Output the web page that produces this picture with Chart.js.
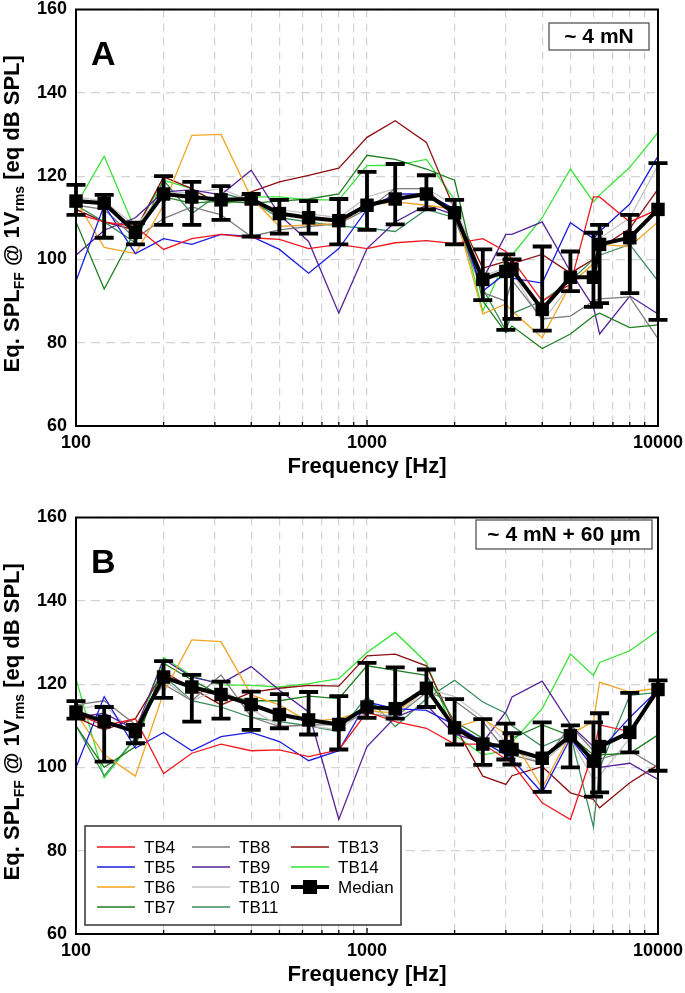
<!DOCTYPE html>
<html>
<head>
<meta charset="utf-8">
<script src="https://cdn.jsdelivr.net/npm/chart.js@4.4.1/dist/chart.umd.min.js"></script>
<style>
  html, body { margin: 0; padding: 0; background: #fff; overflow: hidden; }
  canvas { position: absolute; left: 0; }
  #chartA { top: 0; }
  #chartB { top: 508px; }
</style>
</head>
<body>
<canvas id="chartA" width="685" height="485"></canvas>
<canvas id="chartB" width="685" height="485"></canvas>
<script>
const freqs = [100, 125, 160, 200, 250, 315, 400, 500, 630, 800, 1000, 1250, 1600, 2000, 2500, 3000, 3150, 4000, 5000, 6000, 6300, 8000, 10000];
const xLabels = [100, 1000, 10000];
const yTicks = [60, 80, 100, 120, 140, 160];

const seriesNames = ['TB4', 'TB5', 'TB6', 'TB7', 'TB8', 'TB9', 'TB10', 'TB11', 'TB13', 'TB14'];
const seriesColors = ['#f01820', '#1c1ce0', '#f2a524', '#1f7d1f', '#7d7d7d', '#55229a', '#c4c4c4', '#3b8d5e', '#8c1010', '#36e336'];

/* panel A : ~4 mN */
const tb4A  = [111, 109, 107.9, 102.4, 105, 106, 105.2, 104.8, 102.6, 103.6, 102.6, 104, 104.5, 103.8, 105, 101.9, 100, 90, 94, 115, 115, 109, 112];
const tb5A  = [94.8, 113, 101.4, 105, 103.6, 106, 105.5, 102.4, 96.7, 102.6, 112, 115.7, 115.7, 112.1, 92.4, 96.7, 95.5, 94.3, 108.8, 105, 106.7, 113.3, 124.8];
const tb6A  = [114, 102.9, 101.4, 113, 129.8, 130, 114.8, 107.9, 108.3, 108.6, 113, 113.8, 113, 112, 86.9, 89.3, 87.6, 81.2, 94, 99, 103.6, 103.1, 109];
const tb7A  = [109, 92.9, 107, 115, 113.5, 114, 113.5, 114, 114.5, 115.7, 125, 124, 121.7, 119, 90, 82.4, 84, 78.6, 82.1, 86.4, 87.1, 83.6, 84.3];
const tb8A  = [113, 112, 105, 109.8, 112.6, 110.7, 105.5, 107.1, 107.9, 108.6, 112, 117, 117, 110, 92, 90, 95, 85.7, 86.4, 90, 90.5, 91, 81];
const tb9A  = [101, 107, 110, 116.2, 116.7, 115.5, 121.4, 110.7, 104.3, 87.1, 102.6, 109, 113, 110.7, 95.2, 106, 106, 109, 97.1, 88.6, 82.1, 91.2, 86.9];
const tb10A = [115, 114, 108, 116, 116, 117, 114, 112, 111, 110, 115, 117, 117, 113, 96, 98, 97, 85, 94, 99, 105, 110, 122.6];
const tb11A = [113, 109, 104, 119, 111, 116, 114, 110, 109, 108, 107.5, 106.7, 112, 110, 93, 82.9, 87, 90, 94.8, 100, 101, 103.6, 94.8];
const tb13A = [112, 109, 107, 119.8, 117, 113, 116.2, 118.6, 120.2, 121.9, 129.3, 133.3, 128.1, 112, 97.9, 99.5, 99, 101.2, 96.7, 100, 102.6, 107.4, 116.9];
const tb14A = [113, 124.8, 107, 119, 117, 113, 115, 115, 114.3, 114.3, 122.5, 122.6, 124, 114.3, 87.6, 100.2, 101, 110, 121.7, 113.8, 115.5, 122.1, 130.5];
const medianA  = [114, 113.5, 106.5, 115.7, 115, 114.3, 114.5, 111, 110, 109.3, 113, 114.5, 115.7, 111.2, 95.2, 97.1, 97.6, 88, 95.7, 95.7, 103.6, 105.2, 112];
const errLowA  = [110.7, 105.2, 103.6, 108.3, 108.3, 109.5, 105.5, 106.2, 106.2, 103.6, 107.1, 108.4, 112, 103.6, 90.2, 83.1, 85.7, 82.9, 92.4, 88.6, 89.5, 91.9, 85.5];
const errHighA = [117.9, 115.5, 108.8, 120, 118.6, 117.6, 115.7, 114.3, 114, 114.5, 121, 122.9, 120.2, 114.3, 102.4, 101.2, 100, 103.1, 101.9, 106.4, 108.3, 110.7, 123.1];

/* panel B : ~4 mN + 60 um */
const tb4B  = [113, 110, 111.7, 98.5, 103.4, 105.6, 104, 104.2, 102.6, 104.2, 113.3, 111, 109.4, 105.6, 105.6, 102, 101, 91.5, 87.5, 104, 110.2, 108.6, 118];
const tb5B  = [100, 117, 104.6, 108.4, 104, 107.4, 108.4, 106.2, 101.6, 104, 115.7, 114.1, 113.7, 110.2, 106.2, 103, 102, 93.9, 107, 100, 104, 112, 118.6];
const tb6B  = [113, 103, 97.9, 118, 130.6, 130.2, 117.4, 115, 111, 111.7, 113.7, 113, 119, 109.5, 111.7, 108, 107, 95.1, 108, 111, 120.5, 118.1, 119];
const tb7B  = [110, 100, 105, 125, 121, 117.3, 116, 116, 117.1, 116.5, 124.4, 123.3, 122.1, 111, 107, 104, 107, 110.2, 107.6, 103, 103, 103.4, 107.8];
const tb8B  = [115, 116, 110.3, 120, 116, 122.2, 112.1, 109.8, 110.2, 110.2, 113, 112, 118, 116, 111, 104, 103, 101, 110, 104, 102, 104, 100];
const tb9B  = [112, 113, 109, 126, 121.7, 120.1, 124.2, 118.5, 113.3, 87.5, 105, 112, 115, 108, 106, 113.3, 116.9, 120.7, 110.2, 105, 100, 101, 97.1];
const tb10B = [114, 115, 108, 121, 116, 119, 114, 110, 110, 109, 114, 112, 119, 117, 112, 106, 104, 101, 107, 97, 98, 107, 120];
const tb11B = [110, 98, 107, 122, 116, 114.5, 112, 111, 110, 108.6, 117, 109.8, 116.5, 120.9, 115.7, 113, 110, 105, 108, 85.7, 99.8, 117.3, 118];
const tb13B = [112, 109, 111.7, 123, 119, 115, 118, 119, 119.7, 119.5, 126.8, 127.2, 124.4, 110, 97.9, 95.9, 98, 100.2, 93.9, 92.3, 90.3, 96.3, 100.6];
const tb14B = [121.3, 97.5, 107, 126.4, 122, 119.8, 119.7, 119.3, 120.1, 121.3, 127.6, 132.4, 125.2, 107.8, 103, 104, 106, 114.1, 127.2, 122.1, 125.2, 128, 132.8];
const medianB  = [113.3, 111, 108.6, 121.7, 119.3, 117.5, 115.1, 112.7, 111.4, 110.3, 114.5, 114.1, 119, 109.5, 105.6, 105, 104.3, 102.2, 107.6, 101.5, 105, 108.4, 118.7];
const errLowB  = [111.7, 101.4, 105.8, 116.7, 111, 111.7, 109, 109.4, 107.9, 104.3, 111.9, 111.7, 114.5, 105.5, 100.6, 101.9, 100.7, 94.1, 100, 93, 94, 103.6, 99.2];
const errHighB = [115.9, 114.5, 110.2, 125.5, 122.2, 120.6, 118.2, 117.6, 118.1, 117.1, 125.1, 124, 123.5, 116.4, 111.6, 110.5, 108.2, 110.8, 110.1, 110.8, 113, 117.9, 120.9];

const fontFamily = '"Liberation Sans", Arial, Helvetica, sans-serif';
const minorTicks = [100, 200, 300, 400, 500, 600, 700, 800, 900, 1000, 2000, 3000, 4000, 5000, 6000, 7000, 8000, 9000, 10000];

window.addEventListener('DOMContentLoaded', () => {
    makePanel('chartA', [tb4A, tb5A, tb6A, tb7A, tb8A, tb9A, tb10A, tb11A, tb13A, tb14A], medianA, errLowA, errHighA,
        { letter: 'A', note: '~ 4 mN', noteBox: [549, 23, 100, 27], legend: false });
    makePanel('chartB', [tb4B, tb5B, tb6B, tb7B, tb8B, tb9B, tb10B, tb11B, tb13B, tb14B], medianB, errLowB, errHighB,
        { letter: 'B', note: '~ 4 mN + 60 µm', noteBox: [476, 12, 176, 29], legend: true });
});

function toPoints(values) {
    return freqs.map((f, i) => ({ x: f, y: values[i] }));
}

function makePanel(id, series, median, errLow, errHigh, decor) {
    const datasets = series.map((values, i) => ({
        label: seriesNames[i],
        data: toPoints(values),
        borderColor: seriesColors[i],
        backgroundColor: seriesColors[i],
        borderWidth: 1.3,
        pointRadius: 0,
        tension: 0,
        order: 1
    }));
    // median goes on top of the individual curves
    datasets.push({
        label: 'Median',
        data: toPoints(median),
        borderColor: '#000',
        backgroundColor: '#000',
        borderWidth: 4,
        pointStyle: 'rect',
        pointRadius: 9.5,
        pointBorderWidth: 0,
        clip: false,
        tension: 0,
        order: 0
    });

    new Chart(document.getElementById(id), {
        type: 'line',
        data: { datasets },
        options: {
            responsive: false,
            animation: false,
            layout: { padding: { top: 6, right: 27, left: 0, bottom: 0 } },
            plugins: {
                legend: { display: false },
                tooltip: { enabled: false },
                panelDecor: Object.assign({ errLow, errHigh }, decor)
            },
            scales: {
                x: {
                    type: 'logarithmic',
                    min: 100,
                    max: 10000,
                    afterBuildTicks: (s) => { s.ticks = minorTicks.map(v => ({ value: v })); },
                    afterFit: (s) => { s.height = 59; s.paddingLeft = 0; s.paddingRight = 0; },
                    ticks: {
                        autoSkip: false,
                        maxRotation: 0,
                        padding: 6,
                        color: '#000',
                        font: { family: fontFamily, size: 18, weight: 'bold' },
                        callback: (v) => xLabels.includes(v) ? String(v) : ''
                    },
                    grid: { color: '#d3d3d3', lineWidth: 1.2, drawTicks: false },
                    border: { display: false, dash: [8, 6] }
                },
                y: {
                    min: 60,
                    max: 160,
                    afterBuildTicks: (s) => { s.ticks = yTicks.map(v => ({ value: v })); },
                    afterFit: (s) => { s.width = 76; s.paddingTop = 0; s.paddingBottom = 0; },
                    ticks: {
                        padding: 9,
                        color: '#000',
                        font: { family: fontFamily, size: 18, weight: 'bold' }
                    },
                    grid: { color: '#d3d3d3', lineWidth: 1.2, drawTicks: false },
                    border: { display: false, dash: [9, 6] }
                }
            }
        },
        plugins: [panelDecor]
    });
}

const panelDecor = {
    id: 'panelDecor',
    afterDatasetsDraw(chart, args, opts) {
        // error bars of the median
        const ctx = chart.ctx;
        const xs = chart.scales.x, ys = chart.scales.y;
        ctx.save();
        ctx.strokeStyle = '#000';
        ctx.lineWidth = 3.8;
        freqs.forEach((f, i) => {
            const x = xs.getPixelForValue(f);
            const lo = ys.getPixelForValue(opts.errLow[i]);
            const hi = ys.getPixelForValue(opts.errHigh[i]);
            ctx.beginPath();
            ctx.moveTo(x, lo); ctx.lineTo(x, hi);
            ctx.moveTo(x - 9.5, lo); ctx.lineTo(x + 9.5, lo);
            ctx.moveTo(x - 9.5, hi); ctx.lineTo(x + 9.5, hi);
            ctx.stroke();
        });
        ctx.restore();
    },
    afterDraw(chart, args, opts) {
        const ctx = chart.ctx;
        const area = chart.chartArea;
        const xs = chart.scales.x;
        ctx.save();

        // frame + small inside ticks
        ctx.strokeStyle = '#000';
        ctx.lineWidth = 2;
        ctx.strokeRect(area.left, area.top, area.right - area.left, area.bottom - area.top);
        ctx.lineWidth = 1.3;
        minorTicks.forEach(v => {
            const x = xs.getPixelForValue(v);
            const len = xLabels.includes(v) ? 6 : 4;
            ctx.beginPath();
            ctx.moveTo(x, area.bottom); ctx.lineTo(x, area.bottom - len);
            ctx.stroke();
        });

        // panel letter
        ctx.fillStyle = '#000';
        ctx.font = 'bold 34px ' + fontFamily;
        ctx.textBaseline = 'middle';
        ctx.textAlign = 'left';
        ctx.fillText(opts.letter, 91, area.top + 46);

        // note box
        const [bx, by, bw, bh] = opts.noteBox;
        ctx.fillStyle = '#fff';
        ctx.fillRect(bx, by, bw, bh);
        ctx.strokeStyle = '#555';
        ctx.lineWidth = 1.3;
        ctx.strokeRect(bx, by, bw, bh);
        ctx.fillStyle = '#000';
        ctx.font = 'bold 21px ' + fontFamily;
        ctx.textAlign = 'center';
        ctx.fillText(opts.note, bx + bw / 2, by + bh / 2 + 1);

        // x title
        ctx.font = 'bold 22px ' + fontFamily;
        ctx.fillText('Frequency [Hz]', (area.left + area.right) / 2, area.bottom + 41);

        drawYTitle(ctx, 19, (area.top + area.bottom) / 2 - 4);

        if (opts.legend) drawLegend(chart, ctx);
        ctx.restore();
    }
};

function drawYTitle(ctx, x, yc) {
    const parts = [['Eq. SPL', 0], ['FF', 1], [' @ 1V', 0], ['rms', 1], [' [eq dB SPL]', 0]];
    const big = 'bold 22px ' + fontFamily;
    const small = 'bold 14px ' + fontFamily;
    ctx.save();
    let total = 0;
    parts.forEach(([t, sub]) => { ctx.font = sub ? small : big; total += ctx.measureText(t).width; });
    ctx.translate(x, yc);
    ctx.rotate(-Math.PI / 2);
    ctx.fillStyle = '#000';
    ctx.textAlign = 'left';
    ctx.textBaseline = 'alphabetic';
    let pos = -total / 2;
    parts.forEach(([t, sub]) => {
        ctx.font = sub ? small : big;
        ctx.fillText(t, pos, sub ? 5 : 0);
        pos += ctx.measureText(t).width;
    });
    ctx.restore();
}

function drawLegend(chart, ctx) {
    const box = [85, 318, 316, 99];
    const colX = [97, 192, 291];
    const rowY = [339, 359, 379, 399];
    ctx.save();
    ctx.fillStyle = '#fff';
    ctx.fillRect(box[0], box[1], box[2], box[3]);
    ctx.strokeStyle = '#333';
    ctx.lineWidth = 1.5;
    ctx.strokeRect(box[0], box[1], box[2], box[3]);
    ctx.font = '17px ' + fontFamily;
    ctx.textBaseline = 'middle';
    ctx.textAlign = 'left';
    chart.data.datasets.forEach((ds, i) => {
        const x = colX[Math.floor(i / 4)];
        const y = rowY[i % 4];
        ctx.strokeStyle = ds.borderColor;
        ctx.lineWidth = ds.label === 'Median' ? 4 : 1.6;
        ctx.beginPath();
        ctx.moveTo(x, y); ctx.lineTo(x + 38, y);
        ctx.stroke();
        if (ds.label === 'Median') {
            ctx.fillStyle = '#000';
            ctx.fillRect(x + 12, y - 7, 14, 14);
        }
        ctx.fillStyle = '#000';
        ctx.fillText(ds.label, x + 47, y + 1);
    });
    ctx.restore();
}
</script>
</body>
</html>
